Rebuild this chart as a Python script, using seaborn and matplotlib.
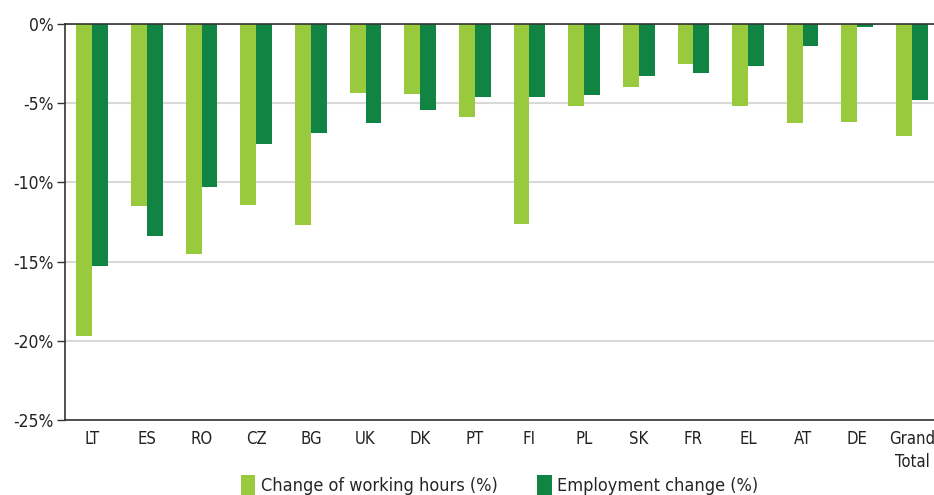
import numpy as np
import pandas as pd
import seaborn as sns
import matplotlib.pyplot as plt
from matplotlib.patches import Patch
from matplotlib import font_manager

sns.set_theme(style='white')
# condensed face if one is installed, otherwise plain sans
names = {f.name for f in font_manager.fontManager.ttflist}
if 'Liberation Sans Narrow' in names:
    plt.rcParams['font.family'] = ['Liberation Sans Narrow', 'DejaVu Sans']
else:
    plt.rcParams['font.family'] = ['DejaVu Sans']
    plt.rcParams['font.stretch'] = 'condensed'

## data
countries = ['LT', 'ES', 'RO', 'CZ', 'BG', 'UK', 'DK', 'PT', 'FI', 'PL',
             'SK', 'FR', 'EL', 'AT', 'DE', 'Grand\nTotal']
hours = [-19.7, -11.5, -14.5, -11.4, -12.7, -4.35, -4.4, -5.9, -12.6, -5.2,
         -4.0, -2.5, -5.2, -6.25, -6.2, -7.1]
employment = [-15.3, -13.4, -10.3, -7.6, -6.9, -6.25, -5.45, -4.6, -4.6, -4.5,
              -3.3, -3.1, -2.65, -1.4, -0.2, -4.8]
series = ['Change of working hours (%)', 'Employment change (%)']
colors = ['#99c93c', '#118342']

df = pd.DataFrame({'country': countries * 2,
                   'value': hours + employment,
                   'series': [series[0]] * len(countries) + [series[1]] * len(countries)})

fig = plt.figure(figsize=(9.34, 4.95), dpi=100)
ax = fig.add_axes([0.0696, 0.1515, 0.936, 0.80])

sns.barplot(data=df, x='country', y='value', hue='series', palette=colors,
            width=0.58, gap=0, saturation=1, linewidth=0, ax=ax, legend=False)

ax.set_ylim(-25, 0)
ax.set_xlim(-0.5, len(countries) - 0.5)
ax.set_yticks(np.arange(-25, 1, 5))
ax.set_yticklabels([f'{v}%' for v in range(-25, 1, 5)], fontsize=12.5, color='#222222')
ax.set_xlabel('')
ax.set_ylabel('')

# category labels centred, ticks at boundaries
ax.set_xticks(np.arange(len(countries)))
ax.set_xticklabels(countries, fontsize=12, color='#222222', linespacing=1.35)
ax.set_xticks(np.arange(len(countries) + 1) - 0.5, minor=True)
ax.tick_params(axis='x', which='major', length=0, pad=7)
ax.tick_params(axis='x', which='minor', length=6, width=1, color='#333333', direction='out')
ax.tick_params(axis='y', length=6, width=1, color='#333333', direction='out', left=True, pad=2)

ax.grid(axis='y', color='#d9d9d9', linewidth=1.5)
ax.set_axisbelow(True)
for s in ['left', 'bottom', 'top']:
    ax.spines[s].set_visible(True)
    ax.spines[s].set_color('#333333')
    ax.spines[s].set_linewidth(1.2)
ax.spines['right'].set_visible(False)

handles = [Patch(facecolor=c, edgecolor='none') for c in colors]
fig.legend(handles, series, loc='lower center', bbox_to_anchor=(0.535, -0.033), ncol=2,
           frameon=False, fontsize=13, handlelength=0.8, handleheight=1.3,
           handletextpad=0.3, columnspacing=2.2)

fig.savefig('out.png', dpi=100)
